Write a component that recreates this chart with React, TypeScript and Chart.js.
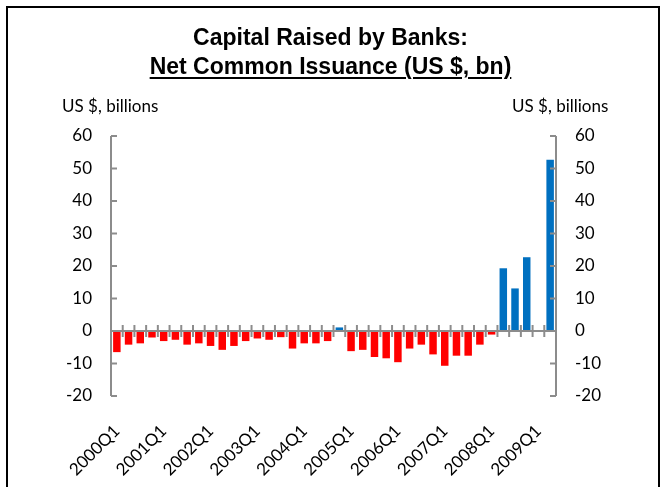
import React, { useEffect, useRef } from "react";
import { Chart, registerables } from "chart.js";

Chart.register(...registerables);

const quarters = [
  "2000Q1", "2000Q2", "2000Q3", "2000Q4",
  "2001Q1", "2001Q2", "2001Q3", "2001Q4",
  "2002Q1", "2002Q2", "2002Q3", "2002Q4",
  "2003Q1", "2003Q2", "2003Q3", "2003Q4",
  "2004Q1", "2004Q2", "2004Q3", "2004Q4",
  "2005Q1", "2005Q2", "2005Q3", "2005Q4",
  "2006Q1", "2006Q2", "2006Q3", "2006Q4",
  "2007Q1", "2007Q2", "2007Q3", "2007Q4",
  "2008Q1", "2008Q2", "2008Q3", "2008Q4",
  "2009Q1", "2009Q2",
];

const netIssuance = [
  -6.5, -4.2, -3.8, -2.0,
  -3.1, -2.7, -4.2, -3.8,
  -4.6, -5.8, -4.6, -3.1,
  -2.3, -2.7, -1.9, -5.4,
  -3.8, -3.8, -3.1, 1.1,
  -6.2, -5.8, -8.0, -8.4,
  -9.6, -5.4, -4.2, -7.2,
  -10.7, -7.6, -7.6, -4.2,
  -1.1, 19.3, 13.1, 22.7,
  0, 52.7,
];

const yMin = -20;
const yMax = 60;
const yStep = 10;

const titleLine1 = "Capital Raised by Banks:";
const titleLine2 = "Net Common Issuance (US $, bn)";
const unitLabel = "US $, billions";

const POS = "#0070C0";
const NEG = "#FF0000";
const AXIS = "#8c8c8c";
const FONT = "Lato, 'Open Sans', sans-serif";

const axisPlugin = {
  id: "axisLines",
  afterDatasetsDraw(chart: any) {
    const { ctx, chartArea } = chart;
    const xs = chart.scales.x;
    const ys = chart.scales.y;
    const { left, right, top, bottom } = chartArea;
    const y0 = ys.getPixelForValue(0);
    ctx.save();
    ctx.strokeStyle = AXIS;
    ctx.lineWidth = 2;
    ctx.lineCap = "butt";
    const line = (a: number, b: number, c: number, d: number) => {
      ctx.beginPath();
      ctx.moveTo(a, b);
      ctx.lineTo(c, d);
      ctx.stroke();
    };
    line(left, top, left, bottom);
    line(right, top, right, bottom);
    ys.ticks.forEach((t: any) => {
      const py = ys.getPixelForValue(t.value);
      line(left, py, left + 6, py);
      line(right - 6, py, right, py);
    });
    line(left, y0, right, y0);
    const n = quarters.length;
    const step = xs.getPixelForValue(1) - xs.getPixelForValue(0);
    for (let i = 1; i < n; i++) {
      const px = xs.getPixelForValue(i) - step / 2;
      line(px, y0 - 6, px, y0 + 6);
    }
    ctx.restore();
  },
};

export default function App() {
  const ref = useRef<HTMLCanvasElement | null>(null);

  useEffect(() => {
    if (!ref.current) return;
    const tickFont = { family: FONT, size: 17 };
    const chart = new Chart(ref.current, {
      type: "bar",
      data: {
        labels: quarters,
        datasets: [
          {
            data: netIssuance,
            backgroundColor: netIssuance.map((v) => (v >= 0 ? POS : NEG)),
            barPercentage: 0.64,
            categoryPercentage: 1.0,
            borderWidth: 0,
          },
        ],
      },
      options: {
        responsive: false,
        animation: false,
        events: [],
        layout: { padding: { top: 136, left: 0, right: 0, bottom: 0 } },
        plugins: {
          legend: { display: false },
          tooltip: { enabled: false },
          title: { display: false },
        },
        scales: {
          x: {
            position: "bottom",
            grid: { display: false, drawTicks: false },
            border: { display: false },
            ticks: {
              autoSkip: false,
              maxRotation: 45,
              minRotation: 45,
              padding: 25,
              color: "#000",
              font: tickFont,
              callback: (_v: any, i: number) => (i % 4 === 0 ? quarters[i] : ""),
            },
            afterFit: (s: any) => {
              s.height = 91;
            },
          },
          y: {
            position: "left",
            min: yMin,
            max: yMax,
            grid: { display: false, drawTicks: false },
            border: { display: false },
            ticks: { stepSize: yStep, padding: 19, color: "#000", font: tickFont },
            afterFit: (s: any) => {
              s.width = 111;
            },
          },
          y2: {
            position: "right",
            min: yMin,
            max: yMax,
            grid: { display: false, drawTicks: false },
            border: { display: false },
            ticks: { stepSize: yStep, padding: 19, color: "#000", font: tickFont },
            afterFit: (s: any) => {
              s.width = 105;
            },
          },
        },
      },
      plugins: [axisPlugin],
    } as any);
    return () => chart.destroy();
  }, []);

  const titleStyle: React.CSSProperties = {
    position: "fixed",
    left: 0,
    width: 661,
    textAlign: "center",
    fontFamily: "'Liberation Sans', Arial, sans-serif",
    fontWeight: "bold",
    fontSize: 23,
    color: "#000",
    lineHeight: "26px",
    margin: 0,
    whiteSpace: "nowrap",
  };
  const unitStyle: React.CSSProperties = {
    position: "fixed",
    fontFamily: FONT,
    fontSize: 17,
    color: "#000",
    lineHeight: "20px",
    whiteSpace: "nowrap",
  };

  return (
    <div>
      <canvas
        ref={ref}
        width={661}
        height={487}
        style={{ position: "fixed", left: 0, top: 0, width: 661, height: 487, display: "block" }}
      />
      <div
        style={{
          position: "fixed",
          left: 6,
          top: 6,
          width: 654,
          height: 520,
          border: "2px solid #000",
          boxSizing: "border-box",
          pointerEvents: "none",
        }}
      />
      <div style={{ ...titleStyle, top: 24 }}>{titleLine1}</div>
      <div
        style={{
          ...titleStyle,
          top: 53,
          textDecoration: "underline",
          textDecorationThickness: "2px",
          textUnderlineOffset: "3px",
        }}
      >
        {titleLine2}
      </div>
      <div style={{ ...unitStyle, left: 62, top: 96 }}>{unitLabel}</div>
      <div style={{ ...unitStyle, left: 512, top: 96 }}>{unitLabel}</div>
    </div>
  );
}
